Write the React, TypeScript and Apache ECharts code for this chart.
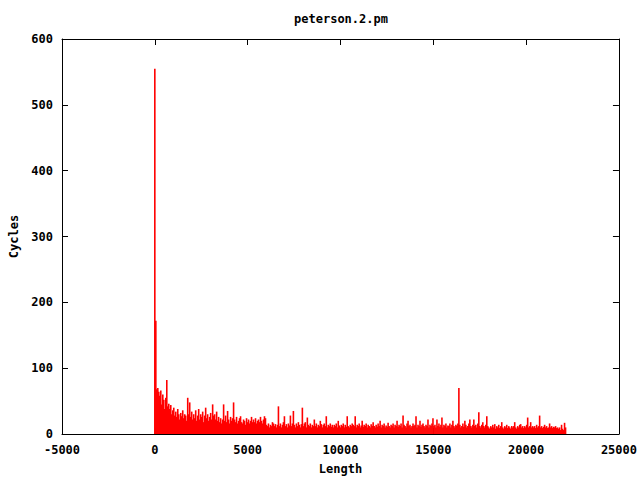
import React, { useEffect, useRef } from "react";
import * as echarts from "echarts";

const chartTitle = "peterson.2.pm";
const xAxisName = "Length";
const yAxisName = "Cycles";
const xTicks = [-5000, 0, 5000, 10000, 15000, 20000, 25000];
const yTicks = [0, 100, 200, 300, 400, 500, 600];

// lengths start at 0, one measurement every lengthStep units
const lengthStart = 0;
const lengthStep = 53.7;

const cycles = [
  555, 172, 68, 70, 64, 58, 66, 45, 60, 52, 38, 55, 82, 42, 46, 38, 44, 30, 36, 40,
  28, 34, 26, 38, 30, 22, 32, 27, 36, 24, 30, 28, 20, 55, 30, 48, 26, 34, 22, 30,
  24, 36, 20, 28, 38, 22, 30, 26, 34, 18, 28, 40, 24, 30, 20, 26, 32, 22, 45, 28,
  30, 22, 34, 20, 26, 18, 24, 16, 22, 45, 20, 28, 18, 35, 22, 16, 26, 20, 24, 48,
  22, 18, 26, 16, 20, 24, 27, 18, 16, 22, 20, 14, 24, 18, 22, 16, 20, 26, 18, 22,
  18, 24, 16, 20, 22, 18, 26, 20, 16, 22, 27, 24, 14, 12, 16, 10, 14, 12, 18, 16,
  12, 15, 10, 14, 42, 12, 16, 10, 14, 18, 27, 12, 15, 10, 16, 13, 28, 12, 16, 35,
  14, 10, 16, 12, 18, 14, 10, 15, 40, 12, 16, 18, 10, 25, 14, 12, 16, 10, 14, 12,
  22, 12, 16, 10, 14, 12, 20, 15, 10, 14, 16, 12, 27, 10, 14, 12, 16, 11, 14, 10,
  14, 12, 16, 10, 20, 13, 10, 14, 12, 16, 10, 14, 11, 27, 12, 10, 14, 12, 16, 14,
  12, 27, 10, 14, 12, 16, 10, 13, 20, 11, 14, 12, 16, 10, 14, 12, 10, 15, 12, 18,
  12, 10, 14, 11, 16, 12, 20, 10, 14, 12, 16, 10, 13, 11, 17, 12, 10, 14, 12, 16,
  10, 14, 12, 20, 11, 14, 12, 16, 10, 28, 14, 12, 10, 16, 20, 12, 14, 10, 12, 16,
  12, 14, 27, 10, 14, 12, 20, 11, 14, 16, 12, 10, 14, 12, 22, 10, 14, 12, 16, 24,
  12, 14, 10, 22, 12, 16, 11, 14, 25, 10, 14, 12, 16, 10, 13, 12, 16, 10, 14, 20,
  12, 10, 14, 12, 16, 70, 14, 10, 12, 16, 11, 20, 14, 10, 12, 16, 22, 12, 10, 14,
  22, 12, 14, 10, 16, 33, 12, 10, 14, 18, 12, 10, 14, 27, 12, 10, 8, 12, 10, 14,
  10, 15, 8, 12, 10, 14, 9, 12, 18, 10, 8, 12, 10, 14, 9, 12, 10, 8, 12, 10,
  12, 18, 10, 8, 12, 10, 14, 15, 10, 12, 9, 12, 10, 14, 25, 10, 12, 18, 10, 12,
  10, 12, 9, 14, 10, 12, 28, 10, 12, 9, 11, 14, 10, 12, 9, 10, 16, 10, 12, 9,
  11, 10, 12, 9, 10, 8, 10, 6, 14, 8, 6, 17, 10,
];

const FONT = "'DejaVu Sans Mono', monospace";

export default function App() {
  const ref = useRef<HTMLDivElement>(null);
  useEffect(() => {
    if (!ref.current) return;
    const chart = echarts.init(ref.current, null, { renderer: "svg", width: 640, height: 480 });
    const data = cycles.map((c, i) => [lengthStart + i * lengthStep, c]);
    const labelStyle = {
      fontFamily: FONT,
      fontWeight: "bold" as const,
      fontSize: 12,
      color: "#000",
    };
    const plain = (v: number) => String(v);
    const common = {
      axisLine: { show: true, onZero: false, lineStyle: { color: "#000", width: 1 } },
      axisTick: { show: true, inside: true, length: 6, lineStyle: { color: "#000" } },
      splitLine: { show: false },
    };
    chart.setOption({
      animation: false,
      backgroundColor: "#fff",
      graphic: [
        {
          type: "text",
          x: 341,
          y: 19,
          style: {
            text: chartTitle,
            fontFamily: FONT,
            fontWeight: "bold",
            fontSize: 12,
            fill: "#000",
            textAlign: "center",
            textVerticalAlign: "middle",
          },
        },
      ],
      grid: { left: 61, top: 39, right: 21, bottom: 40, containLabel: false },
      xAxis: [
        {
          type: "value",
          min: xTicks[0],
          max: xTicks[xTicks.length - 1],
          interval: 5000,
          position: "bottom",
          ...common,
          axisLabel: { ...labelStyle, margin: 10, formatter: plain },
          name: xAxisName,
          nameLocation: "middle",
          nameGap: 29,
          nameTextStyle: { ...labelStyle },
        },
        {
          type: "value",
          min: xTicks[0],
          max: xTicks[xTicks.length - 1],
          interval: 5000,
          position: "top",
          ...common,
          axisLabel: { show: false },
        },
      ],
      yAxis: [
        {
          type: "value",
          min: yTicks[0],
          max: yTicks[yTicks.length - 1],
          interval: 100,
          position: "left",
          ...common,
          axisLabel: { ...labelStyle, margin: 9, formatter: plain },
          name: yAxisName,
          nameLocation: "middle",
          nameRotate: 90,
          nameGap: 42,
          nameTextStyle: { ...labelStyle },
        },
        {
          type: "value",
          min: yTicks[0],
          max: yTicks[yTicks.length - 1],
          interval: 100,
          position: "right",
          ...common,
          axisLabel: { show: false },
        },
      ],
      series: [
        {
          type: "bar",
          xAxisIndex: 0,
          yAxisIndex: 0,
          data,
          barWidth: 1.6,
          itemStyle: { color: "#ff0000" },
          silent: true,
        },
      ],
    });
    return () => chart.dispose();
  }, []);
  return (
    <div
      ref={ref}
      style={{ position: "fixed", left: 0, top: 0, width: 640, height: 480, background: "#fff" }}
    />
  );
}
